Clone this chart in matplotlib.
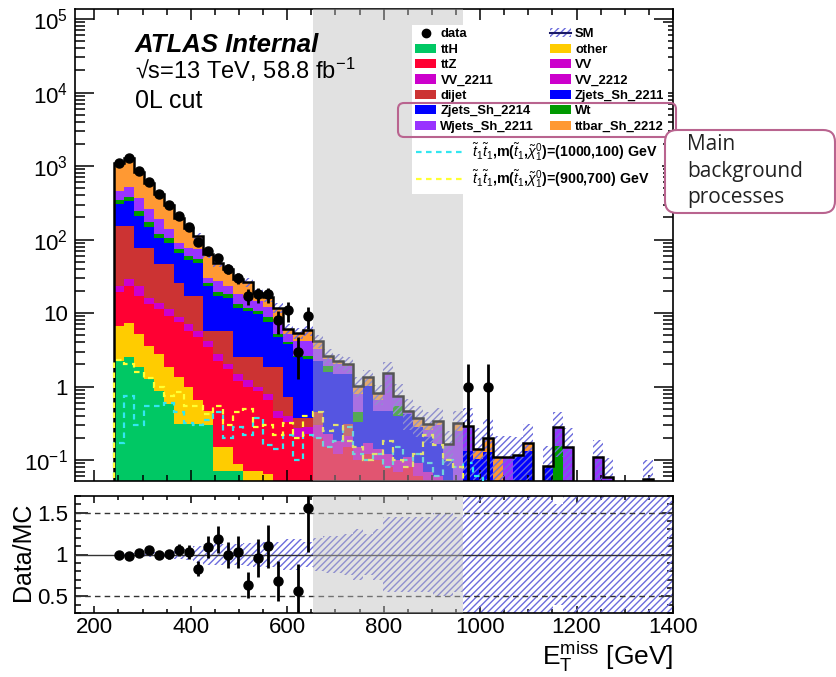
import numpy as np
import matplotlib
matplotlib.use("Agg")
import matplotlib.pyplot as plt
from matplotlib.patches import Patch, FancyBboxPatch
from matplotlib.lines import Line2D
from matplotlib.ticker import FixedLocator, MultipleLocator, NullFormatter

plt.rcParams['font.family'] = ['Liberation Sans', 'DejaVu Sans']
plt.rcParams['mathtext.fontset'] = 'custom'
plt.rcParams['mathtext.rm'] = 'Liberation Sans'
plt.rcParams['mathtext.it'] = 'Liberation Sans:italic'
plt.rcParams['mathtext.bf'] = 'Liberation Sans:bold'
plt.rcParams['hatch.linewidth'] = 1.0

# ---------------- data ----------------
bin_edges = np.linspace(240, 1400, 57)
blind_lo, blind_hi = 20, 35  # blinded bin range (edges index)

ttH = [2.25, 2.5, 1.83, 1.27, 0.88, 0.58, 0.31, 0.31, 0.31, 0.30, 0.072, 0.072, 0.072] + [0.0] * 43
other = [4.48, 4.74, 3.35, 2.33, 1.89, 1.25, 1.03, 0.67, 0.34, 0.17, 0.078, 0.078, 0.017,
         0.072, 0.072, 0.065] + [0.0] * 40
ttZ = ([12.4, 16.3, 12.0, 9.6, 8.5, 7.36, 6.12, 4.77, 4.02, 2.95, 2.1, 1.59, 1.12, 0.91, 0.81,
        0.585, 0.38, 0.33, 0.205, 0.23]
       + [0.2, 0.15, 0.12, 0.15, 0.1, 0.12, 0.1, 0.08, 0.07, 0.08, 0.06, 0.05, 0.04, 0.02, 0.0]
       + [0.0] * 21)
VV = [0.0] * 56
VV_2211 = ([4.4, 5.4, 6.3, 3.1, 2.6, 2.1, 1.27, 1.34, 1.08, 0.79, 0.52, 0.29, 0.28, 0.23, 0.10,
            0.15, 0.09, 0.07, 0.065, 0.05]
           + [0.1, 0.08, 0.06, 0.06, 0.05, 0.05, 0.04, 0.04, 0.03, 0.03, 0.03, 0.02, 0.02, 0.0, 0.0]
           + [0.0] * 21)
VV_2212 = [0.0] * 56
dijet = ([129.5, 124, 54.2, 61.4, 32.3, 34.9, 17.3, 10.1, 11.5, 1.54, 2.98, 3.72, 1.01, 1.29,
          1.52, 1.03, 1.36, 0.32, 0.11, 0.10]
         + [0.15, 0, 0, 0.1] + [0.0] * 11
         + [0.0] * 21)
Zjets_Sh_2211 = [0.0] * 56
Zjets_Sh_2214 = ([148, 181, 131, 70.3, 59.8, 44.7, 40.5, 35.1, 31.4, 17.8, 11.45, 10.55, 9.4,
                  8.2, 7.18, 5.63, 2.84, 3.07, 2.12, 1.99]
                 + [1.8, 1.33, 1.31, 1.18, 0.18, 0.86, 0.33, 0.35, 0.30, 0.31, 0.19, 0.135,
                    0.107, 0.08, 0.0]
                 + [0.135, 0.105, 0.128, 0, 0, 0.116, 0.135, 0, 0.082] + [0.0] * 12)
Wt = ([40, 44, 35, 27, 14, 13.1, 7.3, 7.6, 5.4, 2.5, 1.9, 1.8, 1.3, 1.2, 1.0, 1.27, 0.51, 0.21,
       0.13, 0.26]
      + [0, 0.37, 0, 0, 0.12, 0, 0, 0, 0.15, 0, 0, 0, 0, 0, 0]
      + [0.0] * 9 + [0.158] + [0.0] * 11)
Wjets_Sh_2211 = ([115, 139, 127, 82, 68, 34, 17.1, 17.8, 19.8, 4.4, 8.3, 5.4, 4.9, 4.4, 4.0,
                  3.2, 2.68, 1.18, 1.58, 1.58]
                 + [1.0, 0.44, 0.54, 0.44, 0.35, 0, 0.18, 1.04, 0.2, 0.05, 0, 0.05, 0.13,
                    0.067, 0.25]
                 + [0.152, 0, 0, 0, 0.112, 0, 0, 0, 0, 0.122, 0.153, 0, 0, 0.112, 0.059,
                    0, 0, 0, 0, 0, 0])
ttbar_Sh_2212 = ([648, 777, 465, 325, 227, 156, 108, 66.3, 39.2, 32.9, 20.9, 16.9, 11.0, 10.3,
                  4.05, 4.47, 3.94, 0.82, 1.15, 1.59]
                 + [0.96, 0.26, 0.22, 0.10, 0.23, 0.31, 0.16, 0, 0, 0, 0.1, 0.055, 0.048, 0,
                    0.068]
                 + [0, 0.038, 0.072, 0.112, 0, 0, 0.035, 0, 0, 0, 0, 0, 0, 0, 0, 0, 0, 0,
                    0.055, 0, 0])

data = ([1104, 1268, 853, 611, 411, 294, 209, 148, 94, 69, 57, 40, 30, 17, 18, 18, 8, 11, 3, 9]
        + [0] * 15 + [1, 0, 1] + [0] * 18)

rel_err = ([0.02, 0.02, 0.02, 0.03, 0.03, 0.04, 0.05, 0.06, 0.10, 0.12, 0.12, 0.12, 0.13, 0.14,
            0.15, 0.15, 0.15, 0.18, 0.18, 0.15]
           + [0.2, 0.22, 0.22, 0.25, 0.3, 0.25, 0.3, 0.45, 0.45, 0.45, 0.45, 0.45, 0.5, 0.5, 0.45]
           + [0.8, 0.9, 0.8, 0.9, 0.9, 0.8, 0.8, 1.0, 0.9, 0.6, 0.8, 1.0, 1.0, 0.7, 0.8, 1.0,
              1.0, 1.0, 0.8, 1.0, 1.0])

sig_1000_100 = ([0.17, 0.75, 0.30, 0.55, 0.55, 0.60, 0.45, 0.32, 0.30, 0.35, 0.45, 0.20, 0.28,
                 0.22, 0.38, 0.16, 0.14, 0.22, 0.10, 0.22]
                + [0.20, 0.15, 0.18, 0.28, 0.12, 0.10, 0.12, 0.08, 0.15, 0.10, 0.12, 0.09, 0.06,
                   0.10, 0.08, 0.09, 0.06] + [0.0] * 19)
sig_900_700 = ([2.3, 2.0, 1.6, 1.3, 1.0, 0.75, 0.85, 0.55, 0.55, 0.42, 0.55, 0.30, 0.45, 0.50,
                0.28, 0.30, 0.22, 0.32, 0.20, 0.40]
               + [0.45, 0.25, 0.30, 0.18, 0.15, 0.10, 0.12, 0.18, 0.10, 0.08, 0.12, 0.22, 0.16,
                  0.10, 0.08] + [0.0] * 21)

bkg_names = ['ttH', 'other', 'ttZ', 'VV', 'VV_2211', 'VV_2212', 'dijet', 'Zjets_Sh_2211',
             'Zjets_Sh_2214', 'Wt', 'Wjets_Sh_2211', 'ttbar_Sh_2212']
bkg_values = [ttH, other, ttZ, VV, VV_2211, VV_2212, dijet, Zjets_Sh_2211, Zjets_Sh_2214, Wt,
              Wjets_Sh_2211, ttbar_Sh_2212]
bkg_colors = ['#00c864', '#ffcc00', '#ff0033', '#cc00cc', '#cc00cc', '#cc00cc', '#cc3333',
              '#0000ff', '#0000ff', '#009900', '#9933ff', '#ff9933']

# ---------------- figure ----------------
W, H = 837, 677
fig = plt.figure(figsize=(W / 100, H / 100), dpi=100)

def ax_rect(l, t, r, b):
    return [l / W, 1 - b / H, (r - l) / W, (b - t) / H]

axM = fig.add_axes(ax_rect(75, 9, 673, 481))
axR = fig.add_axes(ax_rect(75, 496, 673, 613))

edges = bin_edges
centers = 0.5 * (edges[1:] + edges[:-1])
width = edges[1] - edges[0]

bottom = np.zeros(len(centers))
for name, vals, col in zip(bkg_names, bkg_values, bkg_colors):
    v = np.asarray(vals, dtype=float)
    top = bottom + v
    axM.stairs(top, edges, baseline=bottom.copy(), fill=True, color=col, lw=0, zorder=1)
    bottom = top
total = bottom

err = np.asarray(rel_err)
m = total > 0
hatch_col = '#6b6bdc'
axM.bar(centers[m], 2 * err[m] * total[m], bottom=total[m] * (1 - err[m]), width=width,
        fill=False, hatch='/////', edgecolor=hatch_col, linewidth=0, zorder=2)
axM.stairs(total, edges, color='black', lw=1.8, zorder=3)

sig_colors = ['#33e6f0', '#ffff33']
axM.stairs(np.asarray(sig_1000_100), edges, color=sig_colors[0], ls=(0, (2.5, 2)), lw=1.6, zorder=3)
axM.stairs(np.asarray(sig_900_700), edges, color=sig_colors[1], ls=(0, (2.5, 2)), lw=1.6, zorder=3)

# blinded region overlay
for ax in (axM, axR):
    ax.axvspan(edges[blind_lo], edges[blind_hi], color='#bdbdbd', alpha=0.45, lw=0, zorder=4)

d = np.asarray(data, dtype=float)
md = d > 0
axM.errorbar(centers[md], d[md], yerr=np.sqrt(d[md]), fmt='o', color='black', ms=6.5,
             elinewidth=2, capsize=0, zorder=6)

axM.set_yscale('log')
axM.set_xlim(160, 1400)
axM.set_ylim(0.052, 1.37e5)
axM.yaxis.set_major_locator(FixedLocator([0.1, 1, 10, 100, 1e3, 1e4, 1e5]))
axM.set_yticklabels([r'$10^{-1}$', '1', '10', r'$10^{2}$', r'$10^{3}$', r'$10^{4}$', r'$10^{5}$'])
axM.yaxis.set_minor_locator(FixedLocator([k * 10.0 ** e for e in range(-2, 6) for k in range(2, 10)]))
axM.yaxis.set_minor_formatter(NullFormatter())
axM.xaxis.set_major_locator(MultipleLocator(200))
axM.xaxis.set_minor_locator(MultipleLocator(50))
axM.tick_params(axis='both', which='both', direction='in', top=True, right=True, width=1.1)
axM.tick_params(axis='y', which='major', length=14, labelsize=16, pad=5)
axM.tick_params(axis='y', which='minor', length=7)
axM.tick_params(axis='x', which='major', length=8)
axM.tick_params(axis='x', which='minor', length=4)
axM.tick_params(labelbottom=False)
for s in axM.spines.values():
    s.set_linewidth(1.2)

# ratio panel
with np.errstate(divide='ignore', invalid='ignore'):
    ratio = np.where(total > 0, d / total, np.nan)
    rerr = np.where(total > 0, np.sqrt(d) / total, np.nan)
mr = md & (total > 0) & (ratio > 0.3) & (ratio < 1.7)
mh = err > 0
axR.bar(centers[mh], 2 * err[mh], bottom=1 - err[mh], width=width, fill=False, hatch='/////',
        edgecolor=hatch_col, linewidth=0, zorder=2)
axR.axhline(1.0, color='#333333', lw=1.0, zorder=3)
for yv in (0.5, 1.5):
    axR.axhline(yv, color='#333333', lw=1.0, ls=(0, (4, 3)), zorder=3)
axR.errorbar(centers[mr], ratio[mr], yerr=rerr[mr], fmt='o', color='black', ms=6.5,
             elinewidth=2, capsize=0, zorder=6)
axR.set_xlim(160, 1400)
axR.set_ylim(0.3, 1.7)
axR.yaxis.set_major_locator(FixedLocator([0.5, 1.0, 1.5]))
axR.set_yticklabels(['0.5', '1', '1.5'])
axR.yaxis.set_minor_locator(MultipleLocator(0.1))
axR.xaxis.set_major_locator(MultipleLocator(200))
axR.xaxis.set_minor_locator(MultipleLocator(50))
axR.tick_params(axis='both', which='both', direction='in', top=True, right=True, width=1.1)
axR.tick_params(axis='y', which='major', length=9, labelsize=16, pad=5)
axR.tick_params(axis='y', which='minor', length=4.5)
axR.tick_params(axis='x', which='major', length=5, labelsize=16, pad=3)
axR.tick_params(axis='x', which='minor', length=3)
for s in axR.spines.values():
    s.set_linewidth(1.2)

fig.text(23 / W, 1 - 552 / H, 'Data/MC', rotation=90, ha='center', va='center', fontsize=18)
fig.text(673 / W, 1 - 665 / H, r'$\mathrm{E}_{\mathrm{T}}^{\mathrm{miss}}$ [GeV]', ha='right',
         va='baseline', fontsize=19)

# ATLAS labels
fig.text(135 / W, 1 - 45 / H, 'ATLAS Internal', fontsize=18.5, weight='bold', style='italic',
         va='center', ha='left')
fig.text(135 / W, 1 - 70 / H, '\u221as=13 TeV, 58.8 fb$^{-1}$', fontsize=17, va='center',
         ha='left')
fig.text(135 / W, 1 - 101 / H, '0L cut', fontsize=18, va='center', ha='left')

# legends
def patch(c):
    return Patch(facecolor=c, edgecolor='none')

h_data = Line2D([], [], marker='o', color='black', ls='none', ms=6)
h_sm = (Patch(facecolor='none', edgecolor=hatch_col, hatch='/////', lw=0),
        Line2D([], [], color='#1a1a66', lw=1.5))
col1 = [(h_data, 'data'), (patch('#00c864'), 'ttH'), (patch('#ff0033'), 'ttZ'),
        (patch('#cc00cc'), 'VV_2211'), (patch('#cc3333'), 'dijet'),
        (patch('#0000ff'), 'Zjets_Sh_2214'), (patch('#9933ff'), 'Wjets_Sh_2211')]
col2 = [(h_sm, 'SM'), (patch('#ffcc00'), 'other'), (patch('#cc00cc'), 'VV'),
        (patch('#cc00cc'), 'VV_2212'), (patch('#0000ff'), 'Zjets_Sh_2211'),
        (patch('#009900'), 'Wt'), (patch('#ff9933'), 'ttbar_Sh_2212')]
hs = [h for h, _ in col1 + col2]
ls_ = [l for _, l in col1 + col2]
leg1 = axM.legend(hs, ls_, ncol=2, loc='upper left', bbox_to_anchor=(412 / W, 1 - 25 / H),
                  bbox_transform=fig.transFigure, prop={'size': 9.4, 'weight': 'bold'},
                  frameon=True, facecolor='white', edgecolor='none', framealpha=1,
                  fancybox=False, handlelength=1.6, handleheight=0.7, handletextpad=0.33,
                  labelspacing=0.25, columnspacing=1.2, borderpad=0.25, borderaxespad=0)
leg1.set_zorder(20)
axM.add_artist(leg1)
sig_handles = [Line2D([], [], color=sig_colors[0], ls=(0, (2.5, 2)), lw=1.6),
               Line2D([], [], color=sig_colors[1], ls=(0, (2.5, 2)), lw=1.6)]
sig_labels = [r'$\tilde{t}_{1}\tilde{t}_{1}$,m($\tilde{t}_{1}$,$\tilde{\chi}^{0}_{1}$)=(1000,100) GeV',
              r'$\tilde{t}_{1}\tilde{t}_{1}$,m($\tilde{t}_{1}$,$\tilde{\chi}^{0}_{1}$)=(900,700) GeV']
leg2 = axM.legend(sig_handles, sig_labels, loc='upper left', bbox_to_anchor=(412 / W, 1 - 137 / H),
                  bbox_transform=fig.transFigure, prop={'size': 10.3, 'weight': 'bold'},
                  frameon=True, facecolor='white', edgecolor='none', framealpha=1,
                  fancybox=False, handlelength=3.2, handletextpad=0.7, labelspacing=0.35,
                  borderpad=0.3, borderaxespad=0)
leg2.set_zorder(19)

# annotation overlay in pixel coordinates
ov = fig.add_axes([0, 0, 1, 1], zorder=30)
ov.set_xlim(0, W)
ov.set_ylim(H, 0)
ov.axis('off')
ov.patch.set_alpha(0)
rose = '#b9648f'
ov.add_patch(FancyBboxPatch((398, 103), 278, 34, boxstyle='round,pad=0,rounding_size=6',
                            fill=False, ec=rose, lw=1.5))
ov.add_patch(FancyBboxPatch((665, 130), 170, 83, boxstyle='round,pad=0,rounding_size=12',
                            fc='white', ec=rose, lw=1.5))
for yy, t in zip((145, 171, 197), ('Main', 'background', 'processes')):
    ov.text(687, yy, t, fontsize=15, family='Open Sans', color='#222222', va='center', ha='left')

fig.savefig('out.png', dpi=100)
